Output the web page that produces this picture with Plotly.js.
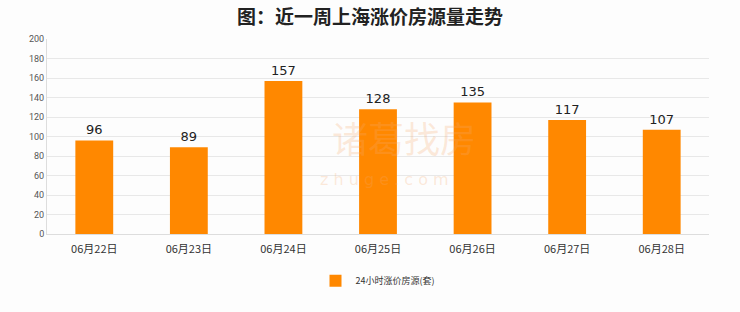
<!DOCTYPE html>
<html><head><meta charset="utf-8">
<script src="https://cdn.plot.ly/plotly-3.0.1.min.js"></script>
<style>html,body{margin:0;padding:0;background:#fdfdfd;}#c{width:740px;height:312px;}</style>
</head><body><div id="c"></div>
<script>
var categories = ["06月22日","06月23日","06月24日","06月25日","06月26日","06月27日","06月28日"];
var values = [96, 89, 157, 128, 135, 117, 107];
var seriesName = "24小时涨价房源(套)";
var yTicks = [0,20,40,60,80,100,120,140,160,180,200];

var trace = {
  type: "bar", x: categories, y: values, name: seriesName,
  marker: {color: "#FF8800"},
  text: values.map(String), textposition: "outside", cliponaxis: false,
  textfont: {family: "DejaVu Sans, sans-serif", size: 13, color: "#222"},
  hoverinfo: "none"
};
var layout = {
  width: 740, height: 312,
  paper_bgcolor: "#fdfdfd", plot_bgcolor: "#fdfdfd",
  margin: {l: 47, r: 31, t: 39, b: 78, autoexpand: false},
  title: {text: "图：近一周上海涨价房源量走势", x: 0.5, xanchor: "center", yref: "container", y: 0.945, yanchor: "middle",
    font: {family: "Noto Sans CJK SC, sans-serif", size: 19, color: "#222", weight: "bold"}},
  bargap: 0.6,
  xaxis: {type: "category", showgrid: false, showline: true, linecolor: "#ddd", linewidth: 1,
    ticks: "", ticklabelstandoff: 5, tickfont: {family: "Noto Sans CJK SC, sans-serif", size: 11, color: "#333"}, fixedrange: true},
  yaxis: {range: [0, 200], tickvals: yTicks, showgrid: true, gridcolor: "#e8e8e8", zeroline: false,
    showline: true, linecolor: "#ddd", linewidth: 1, ticks: "", ticklen: 0,
    tickfont: {family: "Roboto, sans-serif", size: 9, color: "#555"}, fixedrange: true},
  showlegend: true,
  legend: {orientation: "h", x: 0.5, xanchor: "center", yref: "container", y: 0.1, yanchor: "middle",
    font: {family: "Noto Sans CJK SC, sans-serif", size: 9, color: "#333"}, itemwidth: 30},
  annotations: [
    {text: "诸葛找房", xref: "paper", yref: "paper", x: 0.54, y: 0.5, showarrow: false,
     font: {family: "Noto Sans CJK SC, sans-serif", size: 36, color: "rgba(245,170,110,0.25)"}},
    {text: "z h u g e . c o m", xref: "paper", yref: "paper", x: 0.51, y: 0.22, showarrow: false,
     font: {family: "DejaVu Sans, sans-serif", size: 16, color: "rgba(245,170,110,0.25)"}}
  ]
};
Plotly.newPlot("c", [trace], layout, {displayModeBar: false, staticPlot: true});
</script></body></html>
